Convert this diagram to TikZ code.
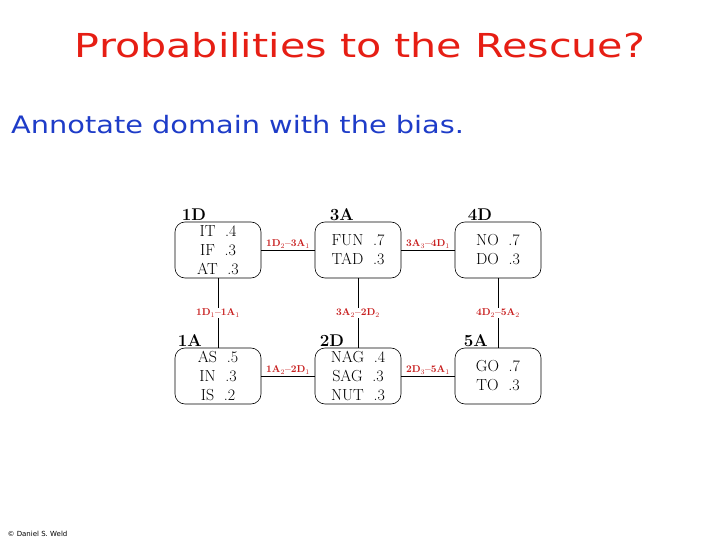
\documentclass[tikz,border=0pt]{standalone}
\usepackage{fontspec}
\setsansfont{DejaVu Sans}
\usetikzlibrary{positioning}
\definecolor{ttl}{RGB}{230,30,20}
\definecolor{txt}{RGB}{30,60,200}
\definecolor{lab}{RGB}{200,30,30}
\tikzset{
 dom/.style={draw,rounded corners=10pt,minimum width=86pt,minimum height=56pt,line width=0.6pt,font=\rmfamily\fontsize{16}{19}\selectfont,align=center,inner sep=0pt},
 nm/.style={font=\rmfamily\bfseries\fontsize{17}{18}\selectfont,anchor=south west,inner sep=1pt},
 lb/.style={text=lab,font=\rmfamily\bfseries\fontsize{10}{11}\selectfont,fill=white,inner sep=0.5pt},
 hlb/.style={lb,yshift=6pt},
 ln/.style={line width=0.6pt}
}
\begin{document}
\begin{tikzpicture}[x=1pt,y=-1pt]
\useasboundingbox (0,0) rectangle (720,540);
\node[text=ttl,font=\sffamily\fontsize{33}{36}\selectfont,xscale=1.25] (t) at (360,45) {Probabilities to the Rescue?};
\node[text=txt,font=\sffamily\fontsize{24}{28}\selectfont,anchor=west,xscale=1.2] (s) at (7,125) {Annotate domain with the bias.};
\node[dom] (d1) at (218,250) {IT\ \ .4\\ IF\ \ .3\\ AT\ \ .3};
\node[dom] (a3) at (358,250) {FUN\ \ .7\\ TAD\ \ .3};
\node[dom] (d4) at (498,250) {NO\ \ .7\\ DO\ \ .3};
\node[dom] (a1) at (218,376) {AS\ \ .5\\ IN\ \ .3\\ IS\ \ .2};
\node[dom] (d2) at (358,376) {NAG\ \ .4\\ SAG\ \ .3\\ NUT\ \ .3};
\node[dom] (a5) at (498,376) {GO\ \ .7\\ TO\ \ .3};
\node[nm,xshift=6pt] at (d1.north west) {1D};
\node[nm,xshift=14pt] at (a3.north west) {3A};
\node[nm,xshift=12pt] at (d4.north west) {4D};
\node[nm,xshift=2pt] at (a1.north west) {1A};
\node[nm,xshift=4pt] at (d2.north west) {2D};
\node[nm,xshift=8pt] at (a5.north west) {5A};
\draw[ln] (d1) -- node[hlb]{1D$_2$--3A$_1$} (a3);
\draw[ln] (a3) -- node[hlb]{3A$_3$--4D$_1$} (d4);
\draw[ln] (a1) -- node[hlb]{1A$_2$--2D$_1$} (d2);
\draw[ln] (d2) -- node[hlb]{2D$_3$--5A$_1$} (a5);
\draw[ln] (d1) -- node[lb]{1D$_1$--1A$_1$} (a1);
\draw[ln] (a3) -- node[lb]{3A$_2$--2D$_2$} (d2);
\draw[ln] (d4) -- node[lb]{4D$_2$--5A$_2$} (a5);
\node[font=\sffamily\fontsize{7}{8}\selectfont,anchor=west] (c) at (4,534) {© Daniel S. Weld};
\end{tikzpicture}
\end{document}
